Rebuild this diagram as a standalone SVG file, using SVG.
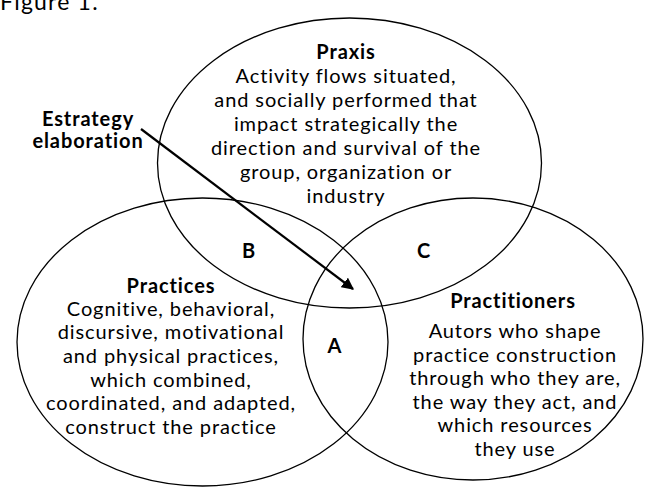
<svg xmlns="http://www.w3.org/2000/svg" width="645" height="488" viewBox="0 0 645 488">
<style>
.e{fill:none;stroke:#000;stroke-width:1.3}
text{font-family:Lato,"Open Sans","Liberation Sans",sans-serif;font-size:20px;letter-spacing:0.9px;fill:#000;text-anchor:middle}
.b{font-weight:bold}
</style>
<defs>
<marker id="ah" viewBox="0 0 10 10" refX="9" refY="5" markerWidth="5.5" markerHeight="5.5" orient="auto" markerUnits="strokeWidth">
<path d="M0,0 L10,5 L0,10 z" fill="#000"/>
</marker>
</defs>
<rect width="645" height="488" fill="#fff"/>
<text x="0" y="10" style="text-anchor:start;font-size:23px;letter-spacing:1.2px">Figure 1.</text>
<g id="praxis">
<ellipse class="e" cx="349.5" cy="163" rx="192" ry="145"/>
<text class="b" x="346" y="59">Praxis</text>
<text x="346" y="83">Activity flows situated,</text>
<text x="346" y="107">and socially performed that</text>
<text x="346" y="131">impact strategically the</text>
<text x="346" y="155">direction and survival of the</text>
<text x="346" y="179">group, organization or</text>
<text x="346" y="203">industry</text>
</g>
<g id="practices">
<ellipse class="e" cx="202.5" cy="342" rx="185.5" ry="144"/>
<text class="b" x="171" y="293">Practices</text>
<text x="171" y="316">Cognitive, behavioral,</text>
<text x="171" y="339">discursive, motivational</text>
<text x="171" y="363">and physical practices,</text>
<text x="171" y="387">which combined,</text>
<text x="171" y="410">coordinated, and adapted,</text>
<text x="171" y="434">construct the practice</text>
</g>
<g id="practitioners">
<ellipse class="e" cx="473" cy="339" rx="170" ry="141"/>
<text class="b" x="513" y="308">Practitioners</text>
<text x="515" y="338">Autors who shape</text>
<text x="515" y="362">practice construction</text>
<text x="515" y="385">through who they are,</text>
<text x="515" y="409">the way they act, and</text>
<text x="515" y="432">which resources</text>
<text x="515" y="456">they use</text>
</g>
<g id="labels">
<text class="b" x="249" y="258">B</text>
<text class="b" x="424" y="258">C</text>
<text class="b" x="335" y="353">A</text>
</g>
<g id="estrategy">
<text class="b" x="88" y="126">Estrategy</text>
<text class="b" x="88" y="148">elaboration</text>
</g>
<g id="connectors">
<line x1="141" y1="129" x2="353" y2="289" stroke="#000" stroke-width="2.2" marker-end="url(#ah)"/>
</g>
</svg>
